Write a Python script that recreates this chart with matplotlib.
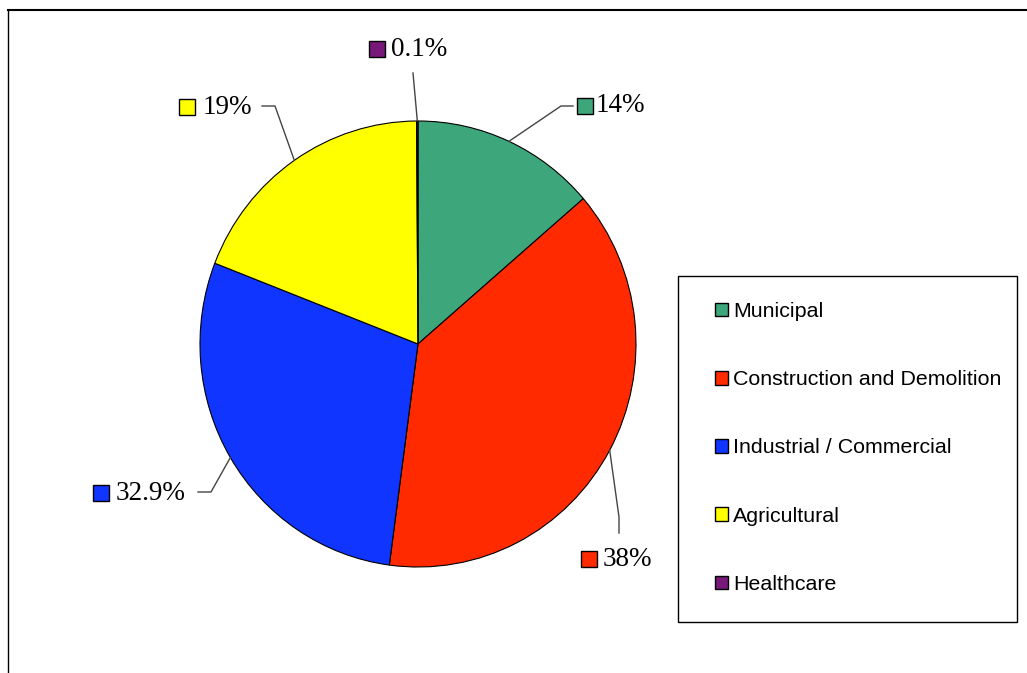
"""
Waste generation by sector, pie chart with outside labels.
"""
import numpy as np
import matplotlib.pyplot as plt
from matplotlib.patches import Patch, Rectangle
from matplotlib.lines import Line2D

# data
sectors = ['Municipal', 'Construction and Demolition', 'Industrial / Commercial',
           'Agricultural', 'Healthcare']
shares = [13.7, 38.4, 28.8, 19.0, 0.1]          # slice sizes
share_labels = ['14%', '38%', '32.9%', '19%', '0.1%']   # printed labels
colors = ['#3da77b', '#ff2a00', '#0f35ff', '#ffff00', '#781878']

# pie placement in pixels (center, radii)
CX, CY, RX, RY = 418, 344, 218, 223
W, H = 1027, 673


def px(x, y):
    return (x - CX) / RX, (CY - y) / RY


# label layout, pixels: elbow, end of leader, marker centre, text left
label_layout = [
    ((561, 106), (573, 106), (585, 106), 596),
    ((619, 517), (619, 533), (589, 559), 603),
    ((211, 492), (198, 492), (101, 493), 116),
    ((275, 106), (262, 106), (187, 107), 203),
    ((413, 73), (413, 73), (377, 49), 391),
]

fig = plt.figure(figsize=(W / 100, H / 100), dpi=100)
ax = fig.add_axes([0, 0, 1, 1])

wedges, _ = ax.pie(shares, colors=colors, startangle=90, counterclock=False,
                   radius=1, center=(0, 0),
                   wedgeprops=dict(edgecolor='black', linewidth=0.8))

ax.set_aspect('auto')
ax.set_xlim(px(0, 0)[0], px(W, 0)[0])
ax.set_ylim(px(0, H)[1], px(0, 0)[1])
ax.axis('off')

#%% labels with leader lines
for w, lab, col, (elbow, end, mk, tx) in zip(wedges, share_labels, colors, label_layout):
    mid = np.deg2rad((w.theta1 + w.theta2) / 2)
    x0, y0 = np.cos(mid), np.sin(mid)
    x1, y1 = px(*elbow)
    x2, y2 = px(*end)
    ax.plot([x0, x1, x2], [y0, y1, y2], color='#444444', lw=1)
    mx, my = px(*mk)
    ax.plot(mx, my, marker='s', ms=12, mfc=col, mec='black', mew=1)
    ax.text(px(tx, 0)[0], my, lab, ha='left', va='center',
            fontfamily='Liberation Serif', fontsize=19.5, color='black')

#%% legend
fig.patches.append(Rectangle((678 / W, 1 - 622 / H), 339 / W, 346 / H,
                             transform=fig.transFigure, fill=False,
                             edgecolor='black', lw=1))
handles = [Patch(facecolor=c, edgecolor='black', lw=1) for c in colors]
fig.legend(handles, sectors, loc='center left',
           bbox_to_anchor=(715 / W, 1 - 448 / H), frameon=False,
           prop={'family': 'Liberation Sans', 'size': 15.4},
           handlelength=0.6, handleheight=0.6, handletextpad=0.25,
           labelspacing=2.3, borderpad=0, borderaxespad=0)

# outer frame (top and left edges only are visible)
fig.add_artist(Line2D([8 / W, 1], [1 - 10 / H, 1 - 10 / H],
                      transform=fig.transFigure, color='black', lw=1.5))
fig.add_artist(Line2D([8 / W, 8 / W], [0, 1 - 10 / H],
                      transform=fig.transFigure, color='black', lw=1))

plt.savefig('out.png', dpi=100)
